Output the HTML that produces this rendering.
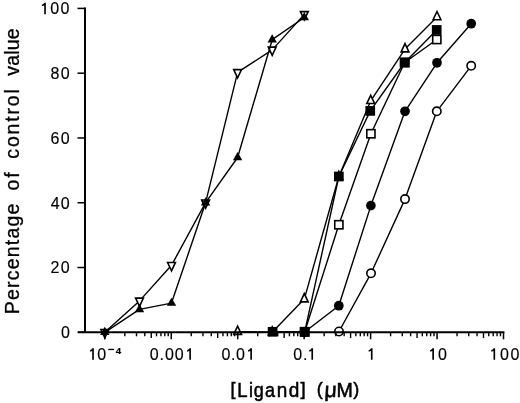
<!DOCTYPE html>
<html><head><meta charset="utf-8"><style>
html,body{margin:0;padding:0;background:#fff;}
svg{display:block;will-change:transform;}
text{font-family:"Liberation Sans",sans-serif;fill:#000;stroke:#000;stroke-width:0.15px;}
.t{stroke-width:0.3px;}
.t2{stroke-width:0.55px;}
</style></head><body>
<svg width="520" height="403" viewBox="0 0 520 403">
<rect width="520" height="403" fill="#fff"/>
<polyline points="104.80,332.30 139.50,300.90 171.50,265.30 205.60,202.70 237.60,72.40 272.20,49.90 304.30,14.40" fill="none" stroke="#000" stroke-width="1.4" stroke-linejoin="round"/>
<polygon points="104.80,337.77 100.90,329.57 108.70,329.57" fill="#fff" stroke="#000" stroke-width="1.6"/>
<polygon points="139.50,306.37 135.60,298.17 143.40,298.17" fill="#fff" stroke="#000" stroke-width="1.6"/>
<polygon points="171.50,270.77 167.60,262.57 175.40,262.57" fill="#fff" stroke="#000" stroke-width="1.6"/>
<polygon points="205.60,208.17 201.70,199.97 209.50,199.97" fill="#fff" stroke="#000" stroke-width="1.6"/>
<polygon points="237.60,77.87 233.70,69.67 241.50,69.67" fill="#fff" stroke="#000" stroke-width="1.6"/>
<polygon points="272.20,55.37 268.30,47.17 276.10,47.17" fill="#fff" stroke="#000" stroke-width="1.6"/>
<polygon points="304.30,19.87 300.40,11.67 308.20,11.67" fill="#fff" stroke="#000" stroke-width="1.6"/>
<polyline points="104.80,332.30 139.50,309.40 171.50,303.10 205.60,202.70 237.60,157.50 272.20,39.70 304.30,17.50" fill="none" stroke="#000" stroke-width="1.4" stroke-linejoin="round"/>
<polygon points="104.80,326.83 100.10,335.03 109.50,335.03" fill="#000"/>
<polygon points="139.50,303.93 134.80,312.13 144.20,312.13" fill="#000"/>
<polygon points="171.50,297.63 166.80,305.83 176.20,305.83" fill="#000"/>
<polygon points="205.60,197.23 200.90,205.43 210.30,205.43" fill="#000"/>
<polygon points="237.60,152.03 232.90,160.23 242.30,160.23" fill="#000"/>
<polygon points="272.20,34.23 267.50,42.43 276.90,42.43" fill="#000"/>
<polygon points="304.30,12.03 299.60,20.23 309.00,20.23" fill="#000"/>
<polyline points="237.60,331.60 272.20,332.30 304.30,299.10 338.80,176.80 370.70,100.80 405.00,49.10 437.00,17.00" fill="none" stroke="#000" stroke-width="1.4" stroke-linejoin="round"/>
<polygon points="237.60,326.13 233.70,334.33 241.50,334.33" fill="#fff" stroke="#000" stroke-width="1.6"/>
<polygon points="272.20,326.83 268.30,335.03 276.10,335.03" fill="#fff" stroke="#000" stroke-width="1.6"/>
<polygon points="304.30,293.63 300.40,301.83 308.20,301.83" fill="#fff" stroke="#000" stroke-width="1.6"/>
<polygon points="338.80,171.33 334.90,179.53 342.70,179.53" fill="#fff" stroke="#000" stroke-width="1.6"/>
<polygon points="370.70,95.33 366.80,103.53 374.60,103.53" fill="#fff" stroke="#000" stroke-width="1.6"/>
<polygon points="405.00,43.63 401.10,51.83 408.90,51.83" fill="#fff" stroke="#000" stroke-width="1.6"/>
<polygon points="437.00,11.53 433.10,19.73 440.90,19.73" fill="#fff" stroke="#000" stroke-width="1.6"/>
<polyline points="304.70,331.80 338.85,224.75 370.90,133.75 404.70,62.50 436.80,39.50" fill="none" stroke="#000" stroke-width="1.4" stroke-linejoin="round"/>
<rect x="300.60" y="327.70" width="8.2" height="8.2" fill="#fff" stroke="#000" stroke-width="1.6"/>
<rect x="334.75" y="220.65" width="8.2" height="8.2" fill="#fff" stroke="#000" stroke-width="1.6"/>
<rect x="366.80" y="129.65" width="8.2" height="8.2" fill="#fff" stroke="#000" stroke-width="1.6"/>
<rect x="400.60" y="58.40" width="8.2" height="8.2" fill="#fff" stroke="#000" stroke-width="1.6"/>
<rect x="432.70" y="35.40" width="8.2" height="8.2" fill="#fff" stroke="#000" stroke-width="1.6"/>
<polyline points="304.30,332.30 338.80,305.70 370.90,205.60 405.00,111.30 437.00,62.80 471.20,23.70" fill="none" stroke="#000" stroke-width="1.4" stroke-linejoin="round"/>
<circle cx="304.30" cy="332.30" r="4.85" fill="#000"/>
<circle cx="338.80" cy="305.70" r="4.85" fill="#000"/>
<circle cx="370.90" cy="205.60" r="4.85" fill="#000"/>
<circle cx="405.00" cy="111.30" r="4.85" fill="#000"/>
<circle cx="437.00" cy="62.80" r="4.85" fill="#000"/>
<circle cx="471.20" cy="23.70" r="4.85" fill="#000"/>
<polyline points="339.00,331.50 371.00,273.30 405.00,199.10 436.80,111.30 471.20,65.80" fill="none" stroke="#000" stroke-width="1.4" stroke-linejoin="round"/>
<circle cx="339.00" cy="331.50" r="4.2" fill="#fff" stroke="#000" stroke-width="1.6"/>
<circle cx="371.00" cy="273.30" r="4.2" fill="#fff" stroke="#000" stroke-width="1.6"/>
<circle cx="405.00" cy="199.10" r="4.2" fill="#fff" stroke="#000" stroke-width="1.6"/>
<circle cx="436.80" cy="111.30" r="4.2" fill="#fff" stroke="#000" stroke-width="1.6"/>
<circle cx="471.20" cy="65.80" r="4.2" fill="#fff" stroke="#000" stroke-width="1.6"/>
<polyline points="272.60,331.80 304.70,331.80 338.85,176.50 370.25,110.90 404.70,62.50 436.70,29.95" fill="none" stroke="#000" stroke-width="1.4" stroke-linejoin="round"/>
<rect x="267.75" y="326.95" width="9.7" height="9.7" fill="#000"/>
<rect x="299.85" y="326.95" width="9.7" height="9.7" fill="#000"/>
<rect x="334.00" y="171.65" width="9.7" height="9.7" fill="#000"/>
<rect x="365.40" y="106.05" width="9.7" height="9.7" fill="#000"/>
<rect x="399.85" y="57.65" width="9.7" height="9.7" fill="#000"/>
<rect x="431.85" y="25.10" width="9.7" height="9.7" fill="#000"/>
<line x1="85.0" y1="7.6" x2="85.0" y2="332.3" stroke="#000" stroke-width="2"/>
<line x1="78" y1="332.3" x2="504.40" y2="332.3" stroke="#000" stroke-width="2"/>
<line x1="77.5" y1="332.30" x2="85.0" y2="332.30" stroke="#000" stroke-width="1.5"/>
<line x1="77.5" y1="267.52" x2="85.0" y2="267.52" stroke="#000" stroke-width="1.5"/>
<line x1="77.5" y1="202.74" x2="85.0" y2="202.74" stroke="#000" stroke-width="1.5"/>
<line x1="77.5" y1="137.96" x2="85.0" y2="137.96" stroke="#000" stroke-width="1.5"/>
<line x1="77.5" y1="73.18" x2="85.0" y2="73.18" stroke="#000" stroke-width="1.5"/>
<line x1="77.5" y1="8.40" x2="85.0" y2="8.40" stroke="#000" stroke-width="1.5"/>
<line x1="104.80" y1="332.3" x2="104.80" y2="339.30" stroke="#000" stroke-width="1.5"/>
<line x1="124.80" y1="332.3" x2="124.80" y2="336.30" stroke="#000" stroke-width="1.4"/>
<line x1="136.50" y1="332.3" x2="136.50" y2="336.30" stroke="#000" stroke-width="1.4"/>
<line x1="144.81" y1="332.3" x2="144.81" y2="336.30" stroke="#000" stroke-width="1.4"/>
<line x1="151.25" y1="332.3" x2="151.25" y2="338.10" stroke="#000" stroke-width="1.4"/>
<line x1="156.51" y1="332.3" x2="156.51" y2="336.30" stroke="#000" stroke-width="1.4"/>
<line x1="160.96" y1="332.3" x2="160.96" y2="336.30" stroke="#000" stroke-width="1.4"/>
<line x1="164.81" y1="332.3" x2="164.81" y2="336.30" stroke="#000" stroke-width="1.4"/>
<line x1="168.21" y1="332.3" x2="168.21" y2="336.30" stroke="#000" stroke-width="1.4"/>
<line x1="171.25" y1="332.3" x2="171.25" y2="339.30" stroke="#000" stroke-width="1.5"/>
<line x1="191.25" y1="332.3" x2="191.25" y2="336.30" stroke="#000" stroke-width="1.4"/>
<line x1="202.95" y1="332.3" x2="202.95" y2="336.30" stroke="#000" stroke-width="1.4"/>
<line x1="211.26" y1="332.3" x2="211.26" y2="336.30" stroke="#000" stroke-width="1.4"/>
<line x1="217.70" y1="332.3" x2="217.70" y2="338.10" stroke="#000" stroke-width="1.4"/>
<line x1="222.96" y1="332.3" x2="222.96" y2="336.30" stroke="#000" stroke-width="1.4"/>
<line x1="227.41" y1="332.3" x2="227.41" y2="336.30" stroke="#000" stroke-width="1.4"/>
<line x1="231.26" y1="332.3" x2="231.26" y2="336.30" stroke="#000" stroke-width="1.4"/>
<line x1="234.66" y1="332.3" x2="234.66" y2="336.30" stroke="#000" stroke-width="1.4"/>
<line x1="237.70" y1="332.3" x2="237.70" y2="339.30" stroke="#000" stroke-width="1.5"/>
<line x1="257.70" y1="332.3" x2="257.70" y2="336.30" stroke="#000" stroke-width="1.4"/>
<line x1="269.40" y1="332.3" x2="269.40" y2="336.30" stroke="#000" stroke-width="1.4"/>
<line x1="277.71" y1="332.3" x2="277.71" y2="336.30" stroke="#000" stroke-width="1.4"/>
<line x1="284.15" y1="332.3" x2="284.15" y2="338.10" stroke="#000" stroke-width="1.4"/>
<line x1="289.41" y1="332.3" x2="289.41" y2="336.30" stroke="#000" stroke-width="1.4"/>
<line x1="293.86" y1="332.3" x2="293.86" y2="336.30" stroke="#000" stroke-width="1.4"/>
<line x1="297.71" y1="332.3" x2="297.71" y2="336.30" stroke="#000" stroke-width="1.4"/>
<line x1="301.11" y1="332.3" x2="301.11" y2="336.30" stroke="#000" stroke-width="1.4"/>
<line x1="304.15" y1="332.3" x2="304.15" y2="339.30" stroke="#000" stroke-width="1.5"/>
<line x1="324.15" y1="332.3" x2="324.15" y2="336.30" stroke="#000" stroke-width="1.4"/>
<line x1="335.85" y1="332.3" x2="335.85" y2="336.30" stroke="#000" stroke-width="1.4"/>
<line x1="344.16" y1="332.3" x2="344.16" y2="336.30" stroke="#000" stroke-width="1.4"/>
<line x1="350.60" y1="332.3" x2="350.60" y2="338.10" stroke="#000" stroke-width="1.4"/>
<line x1="355.86" y1="332.3" x2="355.86" y2="336.30" stroke="#000" stroke-width="1.4"/>
<line x1="360.31" y1="332.3" x2="360.31" y2="336.30" stroke="#000" stroke-width="1.4"/>
<line x1="364.16" y1="332.3" x2="364.16" y2="336.30" stroke="#000" stroke-width="1.4"/>
<line x1="367.56" y1="332.3" x2="367.56" y2="336.30" stroke="#000" stroke-width="1.4"/>
<line x1="370.60" y1="332.3" x2="370.60" y2="339.30" stroke="#000" stroke-width="1.5"/>
<line x1="390.60" y1="332.3" x2="390.60" y2="336.30" stroke="#000" stroke-width="1.4"/>
<line x1="402.30" y1="332.3" x2="402.30" y2="336.30" stroke="#000" stroke-width="1.4"/>
<line x1="410.61" y1="332.3" x2="410.61" y2="336.30" stroke="#000" stroke-width="1.4"/>
<line x1="417.05" y1="332.3" x2="417.05" y2="338.10" stroke="#000" stroke-width="1.4"/>
<line x1="422.31" y1="332.3" x2="422.31" y2="336.30" stroke="#000" stroke-width="1.4"/>
<line x1="426.76" y1="332.3" x2="426.76" y2="336.30" stroke="#000" stroke-width="1.4"/>
<line x1="430.61" y1="332.3" x2="430.61" y2="336.30" stroke="#000" stroke-width="1.4"/>
<line x1="434.01" y1="332.3" x2="434.01" y2="336.30" stroke="#000" stroke-width="1.4"/>
<line x1="437.05" y1="332.3" x2="437.05" y2="339.30" stroke="#000" stroke-width="1.5"/>
<line x1="457.05" y1="332.3" x2="457.05" y2="336.30" stroke="#000" stroke-width="1.4"/>
<line x1="468.75" y1="332.3" x2="468.75" y2="336.30" stroke="#000" stroke-width="1.4"/>
<line x1="477.06" y1="332.3" x2="477.06" y2="336.30" stroke="#000" stroke-width="1.4"/>
<line x1="483.50" y1="332.3" x2="483.50" y2="338.10" stroke="#000" stroke-width="1.4"/>
<line x1="488.76" y1="332.3" x2="488.76" y2="336.30" stroke="#000" stroke-width="1.4"/>
<line x1="493.21" y1="332.3" x2="493.21" y2="336.30" stroke="#000" stroke-width="1.4"/>
<line x1="497.06" y1="332.3" x2="497.06" y2="336.30" stroke="#000" stroke-width="1.4"/>
<line x1="500.46" y1="332.3" x2="500.46" y2="336.30" stroke="#000" stroke-width="1.4"/>
<line x1="503.50" y1="332.3" x2="503.50" y2="339.30" stroke="#000" stroke-width="1.5"/>
<text x="61.00" y="338.10" font-size="16">0</text>
<text x="50.40 60.80" y="273.32" font-size="16">20</text>
<text x="50.80 60.80" y="208.54" font-size="16">40</text>
<text x="50.40 60.80" y="143.76" font-size="16">60</text>
<text x="50.50 60.80" y="78.98" font-size="16">80</text>
<path d="M45.85,2.70 L45.85,14.20 L44.20,14.20 L44.20,5.20 Q43.20,6.00 41.90,6.10 L41.90,4.80 Q43.60,4.40 44.40,2.70 Z" fill="#000"/>
<text x="50.20 60.60" y="14.20" font-size="16">00</text>
<path d="M190.95,348.20 L190.95,359.70 L189.30,359.70 L189.30,350.70 Q188.30,351.50 187.00,351.60 L187.00,350.30 Q188.70,349.90 189.50,348.20 Z" fill="#000"/>
<text x="149.70 159.40 165.10 174.70" y="359.70" font-size="16">0.00</text>
<path d="M251.95,348.20 L251.95,359.70 L250.30,359.70 L250.30,350.70 Q249.30,351.50 248.00,351.60 L248.00,350.30 Q249.70,349.90 250.50,348.20 Z" fill="#000"/>
<text x="221.60 231.10 235.90" y="359.70" font-size="16">0.0</text>
<path d="M313.05,348.20 L313.05,359.70 L311.40,359.70 L311.40,350.70 Q310.40,351.50 309.10,351.60 L309.10,350.30 Q310.80,349.90 311.60,348.20 Z" fill="#000"/>
<text x="293.20 302.90" y="359.70" font-size="16">0.</text>
<path d="M372.55,348.20 L372.55,359.70 L370.90,359.70 L370.90,350.70 Q369.90,351.50 368.60,351.60 L368.60,350.30 Q370.30,349.90 371.10,348.20 Z" fill="#000"/>
<path d="M433.95,348.20 L433.95,359.70 L432.30,359.70 L432.30,350.70 Q431.30,351.50 430.00,351.60 L430.00,350.30 Q431.70,349.90 432.50,348.20 Z" fill="#000"/>
<text x="437.90" y="359.70" font-size="16">0</text>
<path d="M495.15,348.20 L495.15,359.70 L493.50,359.70 L493.50,350.70 Q492.50,351.50 491.20,351.60 L491.20,350.30 Q492.90,349.90 493.70,348.20 Z" fill="#000"/>
<text x="500.00 510.50" y="359.70" font-size="16">00</text>
<path d="M93.85,348.20 L93.85,359.70 L92.20,359.70 L92.20,350.70 Q91.20,351.50 89.90,351.60 L89.90,350.30 Q91.60,349.90 92.40,348.20 Z" fill="#000"/>
<text x="97.30" y="359.70" font-size="16">0</text>
<rect x="108.3" y="348.8" width="5.8" height="1.3" fill="#000"/>
<text x="115.80" y="353.5" font-size="9.7" font-weight="bold">4</text>
<text transform="translate(230.59,394.6) scale(0.900,0.94)" font-size="20" class="t2">[</text>
<text transform="translate(237.13,397.2) scale(0.921,1)" font-size="20" class="t2">L</text>
<text transform="translate(248.97,397.2) scale(0.900,1)" font-size="20" class="t2">i</text>
<text transform="translate(253.68,397.2) scale(0.900,1)" font-size="20" class="t2">g</text>
<text transform="translate(265.10,397.2) scale(0.900,1)" font-size="20" class="t2">a</text>
<text transform="translate(276.79,397.2) scale(0.947,1)" font-size="20" class="t2">n</text>
<text transform="translate(288.76,397.2) scale(0.950,1)" font-size="20" class="t2">d</text>
<text transform="translate(300.52,394.6) scale(0.923,0.94)" font-size="20" class="t2">]</text>
<text transform="translate(316.74,394.6) scale(0.900,0.94)" font-size="20" class="t2">(</text>
<text transform="translate(336.55,397.2) scale(0.981,1)" font-size="20" class="t2">M</text>
<text transform="translate(353.28,394.6) scale(0.900,0.94)" font-size="20" class="t2">)</text>
<g transform="translate(324.30,397.1) skewX(-3) scale(1.06,1.05)"><text x="0" y="0" font-size="20" class="t2">&#956;</text></g>
<text transform="translate(19.1,314.30) rotate(-90)" font-size="19.5" class="t" letter-spacing="1.22">Percentage</text>
<text transform="translate(19.1,190.60) rotate(-90)" font-size="19.5" class="t" letter-spacing="2.00">of</text>
<text transform="translate(19.1,158.70) rotate(-90)" font-size="19.5" class="t" letter-spacing="1.83">control</text>
<text transform="translate(19.1,75.80) rotate(-90)" font-size="19.5" class="t" letter-spacing="0.20">value</text>
</svg>
</body></html>
